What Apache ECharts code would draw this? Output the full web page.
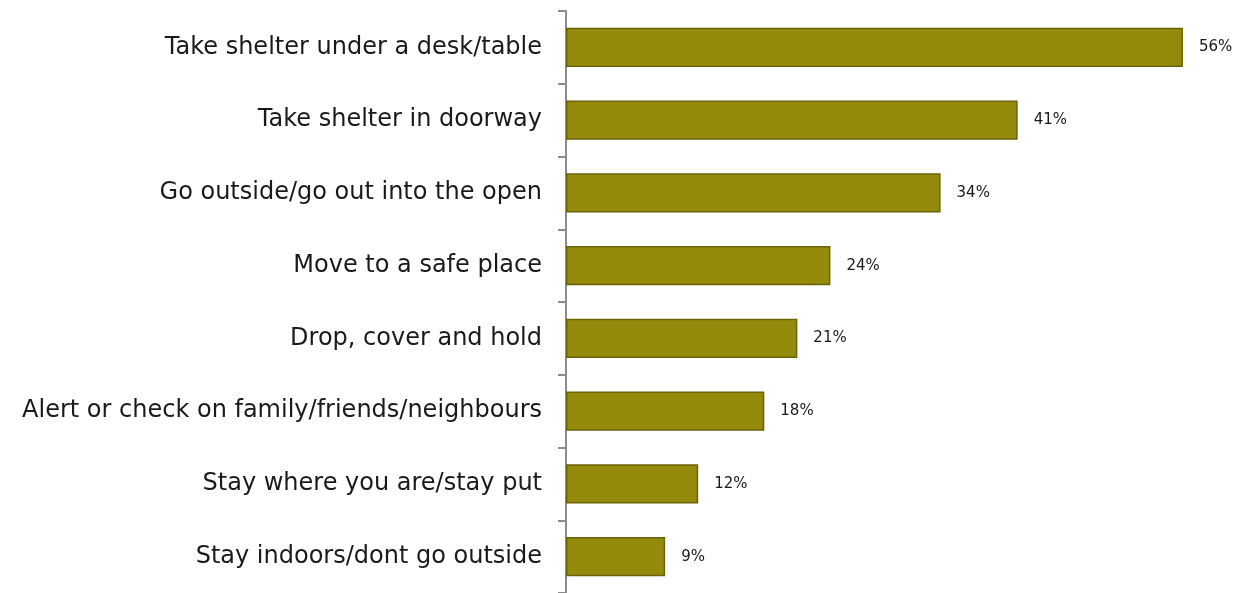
<!DOCTYPE html>
<html><head><meta charset="utf-8">
<script src="https://cdn.jsdelivr.net/npm/echarts@6/dist/echarts.min.js"></script>
<style>html,body{margin:0;padding:0;background:#fff}#c{width:1238px;height:593px}</style>
</head><body><div id="c"></div>
<script>
const categories = [
  "Take shelter under a desk/table",
  "Take shelter in doorway",
  "Go outside/go out into the open",
  "Move to a safe place",
  "Drop, cover and hold",
  "Alert or check on family/friends/neighbours",
  "Stay where you are/stay put",
  "Stay indoors/dont go outside"
];
const values = [56, 41, 34, 24, 21, 18, 12, 9];

const chart = echarts.init(document.getElementById('c'), null, {renderer: 'canvas'});
chart.setOption({
  animation: false,
  grid: {left: 566, right: 11, top: 11, bottom: -2, containLabel: false},
  xAxis: {type: 'value', min: 0, max: 60, show: false},
  yAxis: {
    type: 'category', data: categories, inverse: true,
    axisLine: {show: true, lineStyle: {color: '#8c8c8c', width: 2}},
    axisTick: {show: true, length: 8, lineStyle: {color: '#8c8c8c', width: 2}},
    axisLabel: {color: '#1a1a1a', fontSize: 24, fontFamily: 'DejaVu Sans', margin: 24}
  },
  series: [{
    type: 'bar', data: values, barCategoryGap: '46%',
    itemStyle: {color: '#948a0c', borderColor: '#6b6406', borderWidth: 1.5},
    label: {show: true, position: 'right', distance: 16, formatter: '{c}%', color: '#1a1a1a', fontSize: 15, fontFamily: 'DejaVu Sans'}
  }]
});
</script></body></html>
